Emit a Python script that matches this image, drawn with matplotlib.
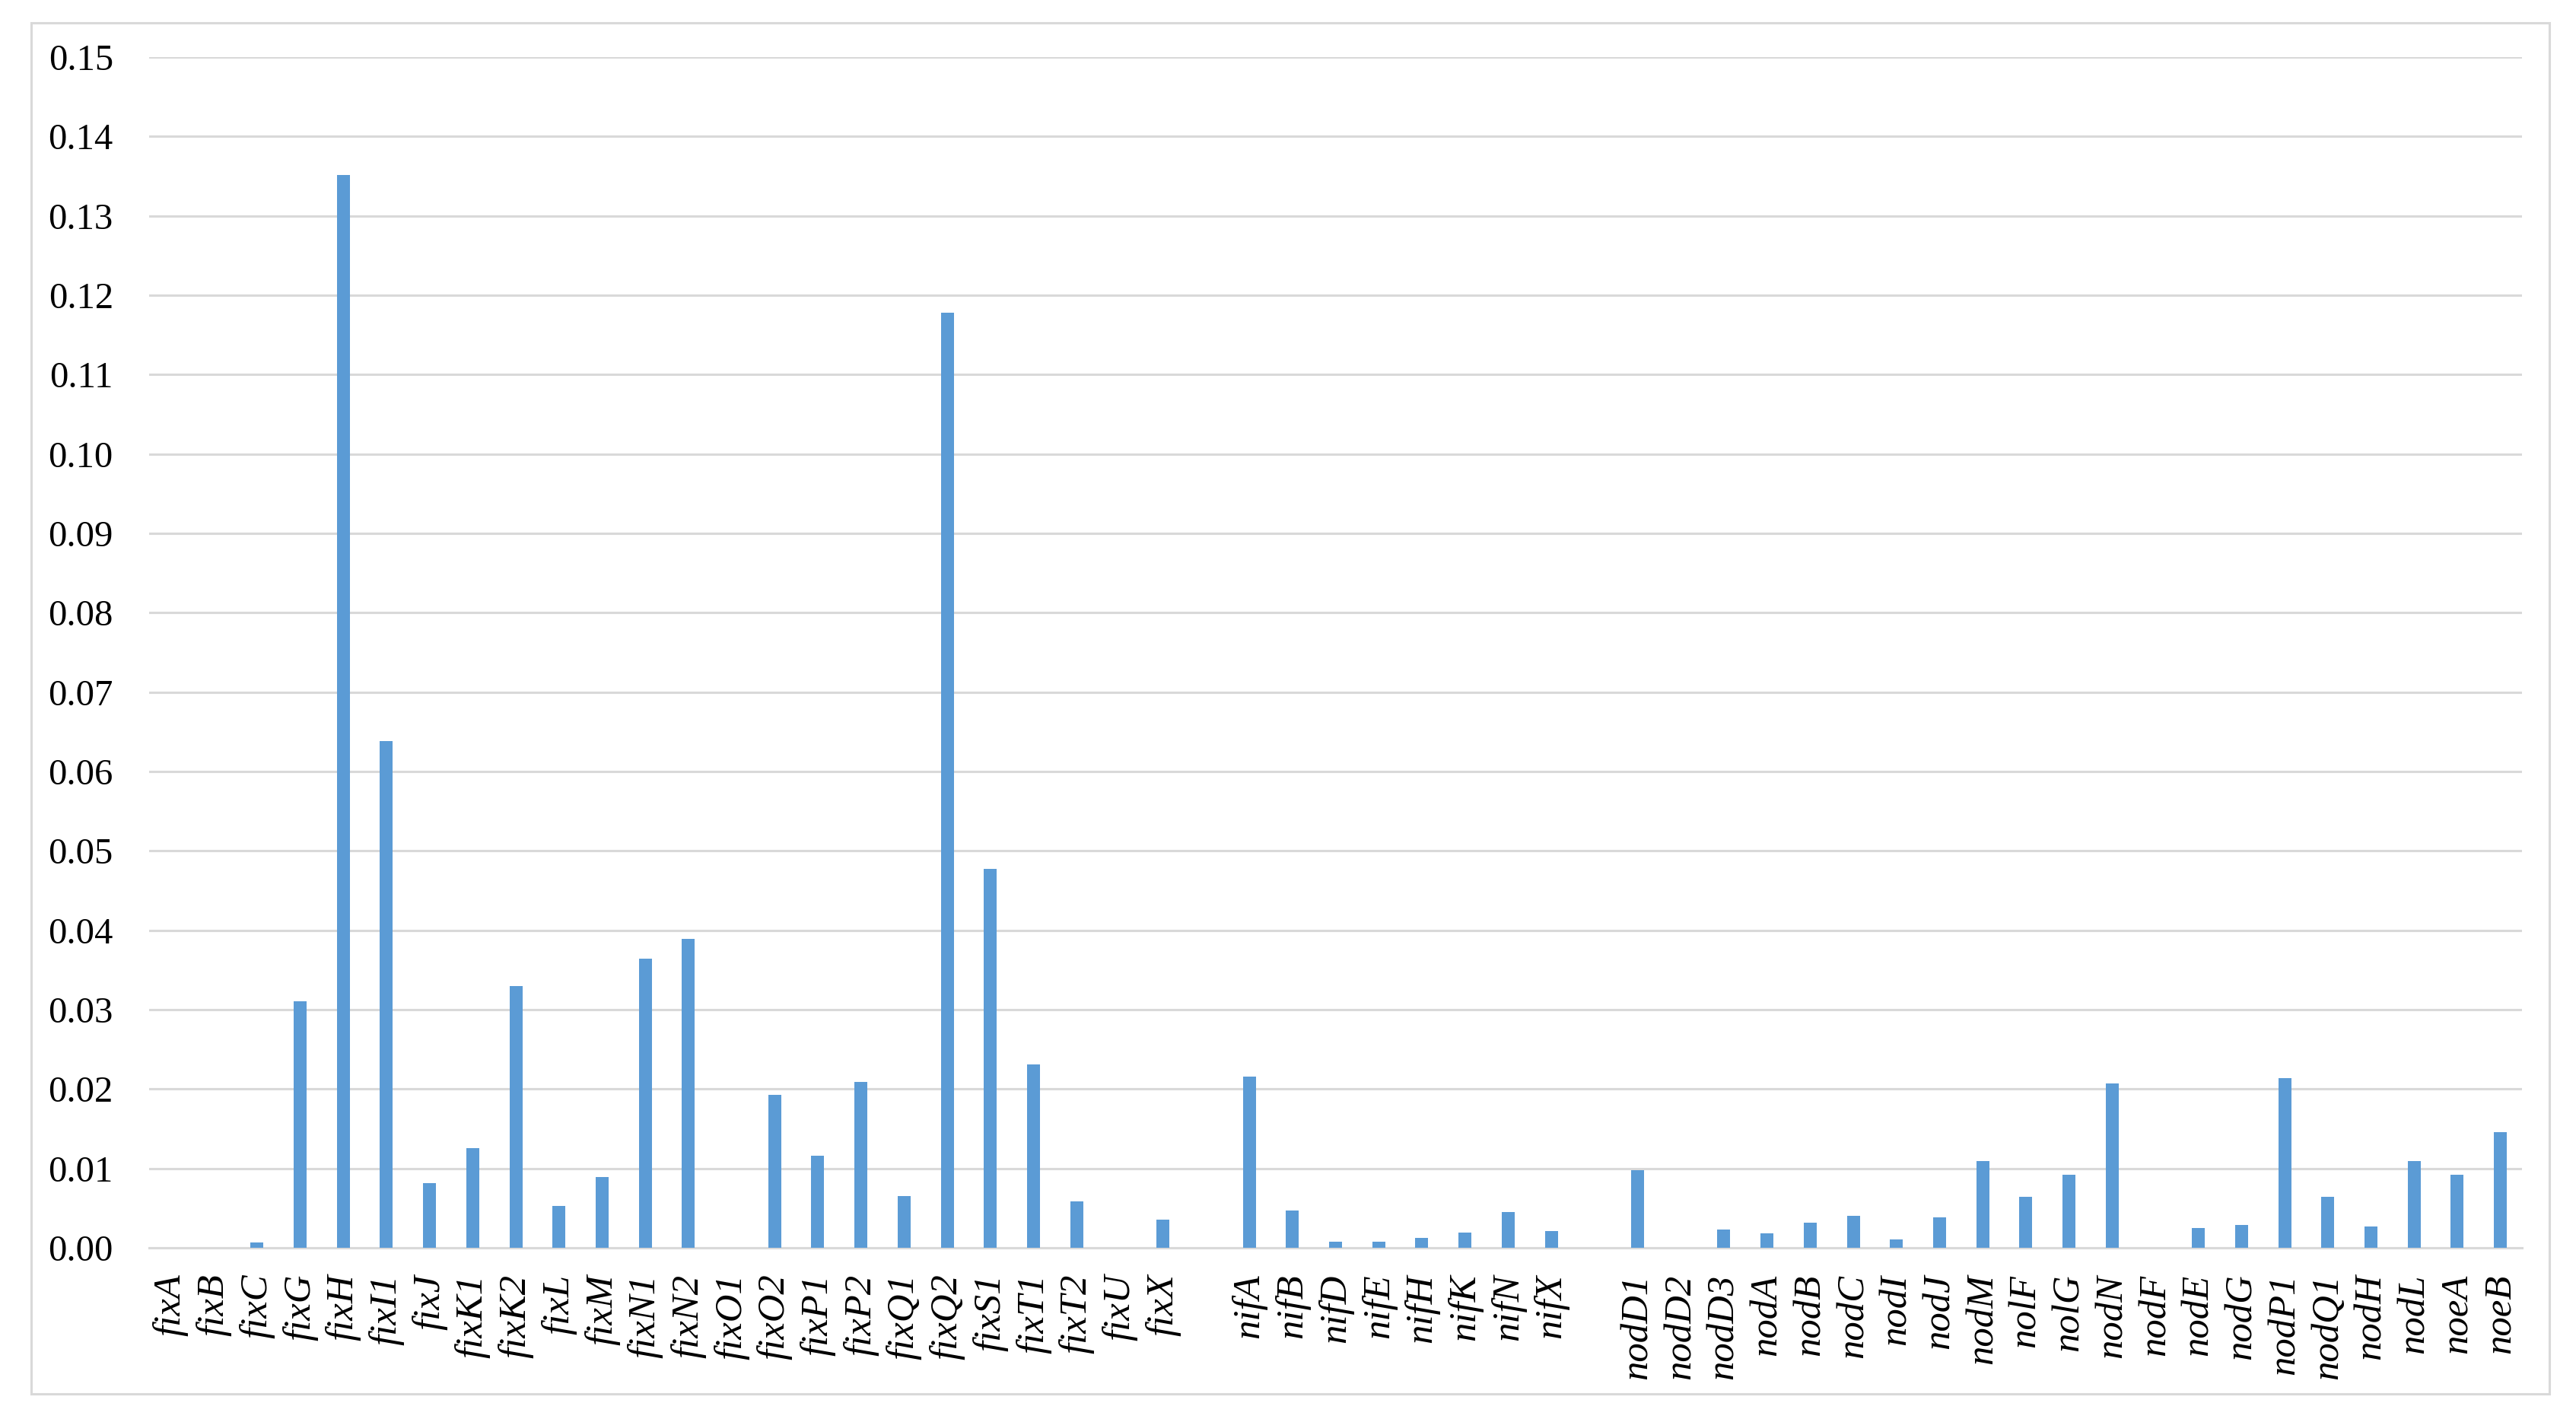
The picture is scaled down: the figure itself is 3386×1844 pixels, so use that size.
import matplotlib
matplotlib.use("Agg")
import matplotlib.pyplot as plt
from matplotlib.patches import Rectangle
from matplotlib.ticker import FormatStrFormatter, MultipleLocator

genes = ["fixA", "fixB", "fixC", "fixG", "fixH", "fixI1", "fixJ", "fixK1", "fixK2", "fixL",
         "fixM", "fixN1", "fixN2", "fixO1", "fixO2", "fixP1", "fixP2", "fixQ1", "fixQ2", "fixS1",
         "fixT1", "fixT2", "fixU", "fixX", "",
         "nifA", "nifB", "nifD", "nifE", "nifH", "nifK", "nifN", "nifX", "",
         "nodD1", "nodD2", "nodD3", "nodA", "nodB", "nodC", "nodI", "nodJ", "nodM", "nolF",
         "nolG", "nodN", "nodF", "nodE", "nodG", "nodP1", "nodQ1", "nodH", "nodL", "noeA", "noeB"]

values = [0.0, 0.0, 0.0007, 0.0311, 0.1351, 0.0638, 0.0081, 0.0126, 0.0330, 0.0053,
          0.0089, 0.0364, 0.0389, 0.0, 0.0193, 0.0116, 0.0209, 0.0065, 0.1178, 0.0477,
          0.0231, 0.0058, 0.0, 0.0035, 0.0,
          0.0216, 0.0047, 0.0008, 0.0008, 0.0012, 0.0019, 0.0045, 0.0021, 0.0,
          0.0098, 0.0, 0.0023, 0.0018, 0.0032, 0.0040, 0.0011, 0.0038, 0.0109, 0.0064,
          0.0092, 0.0207, 0.0, 0.0025, 0.0029, 0.0214, 0.0064, 0.0027, 0.0109, 0.0092, 0.0146]

W, H = 3386, 1844
fig = plt.figure(figsize=(W / 100, H / 100), dpi=100)
fig.patch.set_facecolor("white")

# outer chart border
fig.patches.append(Rectangle((41 / W, 1 - 1832 / H), (3351 - 41) / W, (1832 - 30) / H,
                             transform=fig.transFigure, fill=False,
                             edgecolor="#D9D9D9", linewidth=2.2, zorder=0))

ax = fig.add_axes([196 / W, 204 / H, (3315 - 196) / W, (1769 - 204) / H])
x = [i + 0.5 for i in range(len(genes))]
ax.bar(x, values, width=0.3, color="#5B9BD5", zorder=3)

ax.set_xlim(0, len(genes))
ax.set_ylim(0, 0.15)
ax.yaxis.set_major_locator(MultipleLocator(0.01))
ax.yaxis.set_major_formatter(FormatStrFormatter("%.2f"))
ax.grid(axis="y", color="#D9D9D9", linewidth=2.2, zorder=0)
for s in ["top", "right", "left"]:
    ax.spines[s].set_visible(False)
ax.spines["bottom"].set_color("#D9D9D9")
ax.spines["bottom"].set_linewidth(2.2)

ax.set_xticks(x)
ax.set_xticklabels(genes, rotation=90, fontstyle="italic", family="Liberation Serif",
                   fontsize=36.5, ha="center", va="top")
ax.tick_params(axis="x", length=0, pad=25)
ax.tick_params(axis="y", length=0, pad=34)
for lab in ax.get_yticklabels():
    lab.set_family("Liberation Serif")
    lab.set_fontsize(35)

fig.savefig("out.png", dpi=100, facecolor="white")
